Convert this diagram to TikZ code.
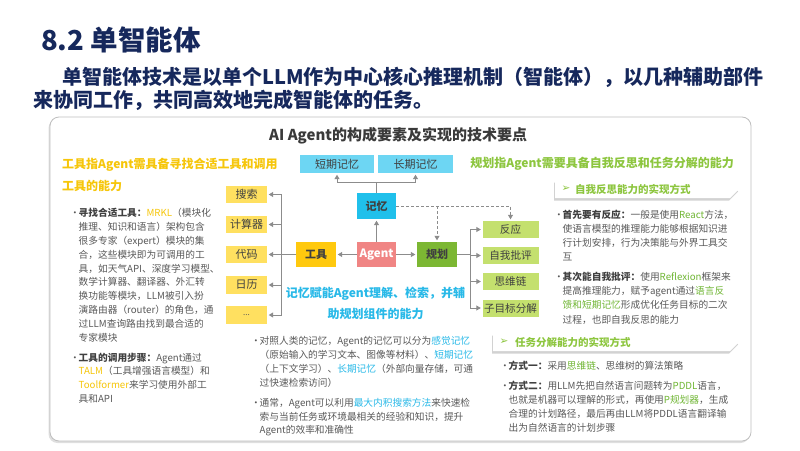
\documentclass[tikz,border=0pt]{standalone}
\usepackage{fontspec}
\setmainfont{Noto Sans CJK SC}[AutoFakeSlant=0.2]
\newfontfamily\symfont{DejaVu Sans}
\usetikzlibrary{arrows.meta,shadows,calc}
\definecolor{navy}{RGB}{22,40,92}
\definecolor{txtgray}{RGB}{89,89,89}
\definecolor{dkgray}{RGB}{64,64,64}
\definecolor{ttlgray}{RGB}{58,58,58}
\definecolor{goldtx}{RGB}{246,198,10}
\definecolor{goldbox}{RGB}{255,201,14}
\definecolor{goldlt}{RGB}{255,224,96}
\definecolor{cyantx}{RGB}{40,185,232}
\definecolor{cyanbox}{RGB}{32,192,235}
\definecolor{cyanlt}{RGB}{109,214,243}
\definecolor{greenh}{RGB}{141,198,63}
\definecolor{greentx}{RGB}{112,182,52}
\definecolor{greenbox}{RGB}{124,183,51}
\definecolor{greenlt}{RGB}{196,224,110}
\definecolor{pinkbox}{RGB}{240,133,132}
\definecolor{conn}{RGB}{140,140,140}
\definecolor{frame}{RGB}{190,190,190}
\newcommand\mybul{\makebox[8.5pt][l]{\textbullet}}
\newcommand\myind{\hspace*{8.5pt}}
\newcommand\hy[1]{\textcolor{goldtx}{#1}}
\newcommand\hc[1]{\textcolor{cyantx}{#1}}
\newcommand\hg[1]{\textcolor{greentx}{#1}}
\newcommand\lbl[1]{\textbf{\textcolor{dkgray}{#1}}}
\begin{document}
\begin{tikzpicture}[x=1pt,y=-1pt,
  body/.style={anchor=north west, inner sep=0pt, font=\fontsize{9.7}{13.8}\selectfont, text=txtgray},
  head/.style={anchor=west, inner sep=0pt, font=\fontsize{12}{14}\selectfont\bfseries\itshape},
  cbox/.style={inner sep=0pt, font=\fontsize{11}{13}\selectfont, text=dkgray},
  arr/.style={draw=conn, line width=0.9pt, shorten >=1.5pt, -{Triangle[width=5pt,length=4.5pt]}},
  ln/.style={draw=conn, line width=0.9pt},
  dsh/.style={draw=conn, line width=0.8pt, dash pattern=on 3pt off 2pt, shorten >=1.5pt, -{Triangle[width=5pt,length=4.5pt]}},
  banner/.style={fill=white, drop shadow={opacity=0.35, shadow xshift=-1pt, shadow yshift=-2.5pt}},
  bantxt/.style={anchor=west, inner sep=0pt, font=\fontsize{10.5}{12}\selectfont\bfseries, text=greenh},
]
\fill[white] (0,0) rectangle (800,450);
\useasboundingbox (0,0) rectangle (800,450);

% titles
\node[anchor=west, inner sep=0pt, font=\fontsize{27.5}{30}\selectfont\bfseries, text=navy] (title) at (41,40) {8.2 单智能体};
\node[anchor=west, inner sep=0pt, font=\fontsize{20}{24}\selectfont\bfseries, text=navy] (sub1) at (62,77) {单智能体技术是以单个LLM作为中心核心推理机制（智能体），以几种辅助部件};
\node[anchor=west, inner sep=0pt, font=\fontsize{20}{24}\selectfont\bfseries, text=navy] (sub2) at (33,100) {来协同工作，共同高效地完成智能体的任务。};

% frame
\draw[draw=frame, line width=0.8pt, fill=white, rounded corners=9pt, drop shadow={opacity=0.25, shadow xshift=-1.5pt, shadow yshift=-2pt}] (50,117) rectangle (751,441);
\node[anchor=west, inner sep=0pt, font=\fontsize{15}{18}\selectfont\bfseries, text=ttlgray] (boxtitle) at (269,136) {AI Agent的构成要素及实现的技术要点};

% headings
\node[head, text=goldtx] (lh1) at (62,165) {工具指Agent需具备寻找合适工具和调用};
\node[head, text=goldtx] (lh2) at (62,186) {工具的能力};
\node[head, text=greenh, anchor=east] (rh) at (734,164) {规划指Agent需要具备自我反思和任务分解的能力};
\node[head, text=cyantx, anchor=center] (ch1) at (375.5,294) {记忆赋能Agent理解、检索，并辅};
\node[head, text=cyantx, anchor=center] (ch2) at (375.5,314) {助规划组件的能力};

% diagram boxes
\node[cbox, fill=cyanlt, minimum width=74pt, minimum height=18pt] (short) at (337,164) {短期记忆};
\node[cbox, fill=cyanlt, minimum width=75pt, minimum height=18pt] (long) at (415.5,164) {长期记忆};
\node[cbox, fill=cyanbox, minimum width=39pt, minimum height=26pt, font=\fontsize{11}{13}\selectfont\bfseries] (mem) at (376.5,206) {记忆};
\node[cbox, fill=pinkbox, text=white, minimum width=39pt, minimum height=25pt, font=\fontsize{11.5}{13}\selectfont\bfseries] (agent) at (376.5,254.5) {Agent};
\node[cbox, fill=goldbox, minimum width=40pt, minimum height=25pt, font=\fontsize{11}{13}\selectfont\bfseries] (tool) at (316,254.5) {工具};
\node[cbox, fill=greenbox, minimum width=40pt, minimum height=25pt, font=\fontsize{11}{13}\selectfont\bfseries] (plan) at (437,254.5) {规划};

\node[cbox, fill=goldlt, minimum width=41pt, minimum height=17.5pt] (sou) at (246.5,194.5) {搜索};
\node[cbox, fill=goldlt, minimum width=41pt, minimum height=17.5pt] (calc) at (246.5,224.5) {计算器};
\node[cbox, fill=goldlt, minimum width=41pt, minimum height=17.5pt] (code) at (246.5,254.5) {代码};
\node[cbox, fill=goldlt, minimum width=41pt, minimum height=17.5pt] (cal) at (246.5,285) {日历};
\node[cbox, fill=goldlt, minimum width=41pt, minimum height=17.5pt, font=\fontsize{8}{10}\selectfont, text=txtgray] (more) at (246.5,315) {...};

\node[cbox, fill=greenlt, minimum width=56pt, minimum height=17pt, font=\fontsize{10.6}{13}\selectfont] (fy) at (510.5,229.5) {反应};
\node[cbox, fill=greenlt, minimum width=56pt, minimum height=17pt, font=\fontsize{10.6}{13}\selectfont] (zw) at (510.5,255.5) {自我批评};
\node[cbox, fill=greenlt, minimum width=56pt, minimum height=17pt, font=\fontsize{10.6}{13}\selectfont] (sw) at (510.5,281.5) {思维链};
\node[cbox, fill=greenlt, minimum width=56pt, minimum height=17pt, font=\fontsize{10.6}{13}\selectfont] (zm) at (510.5,308) {子目标分解};

% connectors
\draw[arr] (agent.west) -- (tool.east);
\draw[arr] (agent.east) -- (plan.west);
\draw[arr] (agent.north) -- (mem.south);
\draw[arr] (mem.north) -- ++(0,-10) -| (short.south);
\draw[arr] (mem.north) -- ++(0,-10) -| (long.south);
\draw[dsh] (mem.east) -| (fy.north);
\draw[dsh] (mem.east -| plan.north) -- (plan.north);

\coordinate (lbus) at (281,254.5);
\draw[ln] (tool.west) -- (lbus);
\draw[arr] (lbus) |- (sou.east);
\draw[arr] (lbus) |- (calc.east);
\draw[arr] (lbus) |- (code.east);
\draw[arr] (lbus) |- (cal.east);
\draw[arr] (lbus) |- (more.east);

\coordinate (rbus) at (470,254.5);
\draw[ln] (plan.east) -- (rbus);
\draw[arr] (rbus) |- (fy.west);
\draw[arr] (rbus) |- (zw.west);
\draw[arr] (rbus) |- (sw.west);
\draw[arr] (rbus) |- (zm.west);

% left text
\node[body] (ltext) at (70,207.1) {\begin{tabular}{@{}l@{}}
\mybul\lbl{寻找合适工具：}\hy{MRKL}（模块化\\
\myind 推理、知识和语言）架构包含\\
\myind 很多专家（expert）模块的集\\
\myind 合，这些模块即为可调用的工\\
\myind 具，如天气API、深度学习模型、\\
\myind 数学计算器、翻译器、外汇转\\
\myind 换功能等模块，LLM被引入扮\\
\myind 演路由器（router）的角色，通\\
\myind 过LLM查询路由找到最合适的\\
\myind 专家模块\\[6.2pt]
\mybul\lbl{工具的调用步骤：}Agent通过\\
\myind\hy{TALM}（工具增强语言模型）和\\
\myind\hy{Toolformer}来学习使用外部工\\
\myind 具和API
\end{tabular}};

% center text
\node[body] (ctext) at (251,335.1) {\begin{tabular}{@{}l@{}}
\mybul 对照人类的记忆，Agent的记忆可以分为\hc{感觉记忆}\\
\myind（原始输入的学习文本、图像等材料）、\hc{短期记忆}\\
\myind（上下文学习）、\hc{长期记忆}（外部向量存储，可通\\
\myind 过快速检索访问）\\[6.2pt]
\mybul 通常，Agent可以利用\hc{最大内积搜索方法}来快速检\\
\myind 索与当前任务或环境最相关的经验和知识，提升\\
\myind Agent的效率和准确性
\end{tabular}};

% right banners
\path[banner] (555,180) -- (730,180) -- (739,189) -- (730,198) -- (555,198) -- cycle;
\node[inner sep=0pt, font=\symfont\fontsize{10.5}{12}\selectfont, text=greenh] (ar1) at (566,189) {➢};
\node[bantxt] (bt1) at (575,189) {自我反思能力的实现方式};
\path[banner] (493,333) -- (730,333) -- (739,342) -- (730,351) -- (493,351) -- cycle;
\node[inner sep=0pt, font=\symfont\fontsize{10.5}{12}\selectfont, text=greenh] (ar2) at (504,342) {➢};
\node[bantxt] (bt2) at (515,342) {任务分解能力的实现方式};

% right text
\node[body, font=\fontsize{9.7}{14.3}\selectfont] (rtext) at (554,207.8) {\begin{tabular}{@{}l@{}}
\mybul\lbl{首先要有反应：}一般是使用\hg{React}方法，\\
\myind 使语言模型的推理能力能够根据知识进\\
\myind 行计划安排，行为决策能与外界工具交\\
\myind 互\\[5pt]
\mybul\lbl{其次能自我批评：}使用\hg{Reflexion}框架来\\
\myind 提高推理能力，赋予agent通过\hg{语言反}\\
\myind\hg{馈和短期记忆}形成优化任务目标的二次\\
\myind 过程，也即自我反思的能力
\end{tabular}};

\node[body] (btext) at (500,360.1) {\begin{tabular}{@{}l@{}}
\mybul\lbl{方式一：}采用\hg{思维链}、思维树的算法策略\\[6.2pt]
\mybul\lbl{方式二：}用LLM先把自然语言问题转为\hg{PDDL}语言，\\
\myind 也就是机器可以理解的形式，再使用\hg{P规划器}，生成\\
\myind 合理的计划路径，最后再由LLM将PDDL语言翻译输\\
\myind 出为自然语言的计划步骤
\end{tabular}};
\end{tikzpicture}
\end{document}
